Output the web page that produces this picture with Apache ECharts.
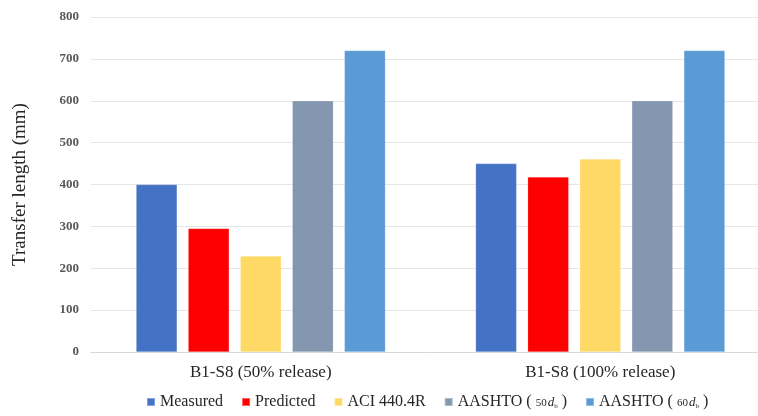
<!DOCTYPE html>
<html>
<head>
<meta charset="utf-8">
<script src="https://cdn.jsdelivr.net/npm/echarts@6/dist/echarts.min.js"></script>
<style>html,body{margin:0;padding:0;background:#fff;}#c{width:758px;height:416px;}</style>
</head>
<body>
<div id="c"></div>
<script>
var categories = ['B1-S8 (50% release)', 'B1-S8 (100% release)'];
var seriesNames = ['Measured', 'Predicted', 'ACI 440.4R', 'AASHTO50', 'AASHTO60'];
var measured = [400, 450];
var predicted = [295, 418];
var aci = [229, 461];
var aashto50 = [600, 600];
var aashto60 = [720, 720];
var yTicks = [0, 100, 200, 300, 400, 500, 600, 700, 800];
var colors = ['#4472C4', '#FF0000', '#FFD966', '#8497B0', '#5B9BD5'];

var serif = 'Liberation Serif';
var values = [measured, predicted, aci, aashto50, aashto60];
var chart = echarts.init(document.getElementById('c'), null, {renderer: 'canvas'});
var series = seriesNames.map(function (n, i) {
  return {
    name: n,
    type: 'bar',
    data: values[i],
    barWidth: 41,
    barGap: '27%',
    itemStyle: {color: colors[i], borderColor: 'rgba(255,255,255,0.35)', borderWidth: 0.5},
    emphasis: {disabled: true}
  };
});
chart.setOption({
  animation: false,
  color: colors,
  textStyle: {fontFamily: serif},
  grid: {left: 91, right: -12, top: 17, bottom: 64, containLabel: false, outerBoundsMode: 'none'},
  legend: {
    bottom: 1,
    left: 141,
    itemWidth: 8,
    itemHeight: 8,
    itemGap: 18,
    icon: 'rect',
    textStyle: {
      fontFamily: serif, fontSize: 16, color: '#262626',
      rich: {
        t: {fontFamily: serif, fontSize: 16, color: '#262626'},
        g: {fontFamily: serif, fontSize: 16, width: 4},
        s: {fontFamily: serif, fontSize: 11, color: '#262626', padding: [2, 0, 0, 0]},
        i: {fontFamily: serif, fontSize: 13, fontStyle: 'italic', color: '#262626', padding: [2, 0, 0, 1]},
        b: {fontFamily: serif, fontSize: 7, color: '#262626', padding: [8, 0, 0, 0]}
      }
    },
    formatter: function (name) {
      if (name === 'AASHTO50') return '{t|AASHTO (}{g| }{s|50}{i|d}{b|b}{g| }{t|)}';
      if (name === 'AASHTO60') return '{t|AASHTO (}{g| }{s|60}{i|d}{b|b}{g| }{t|)}';
      return '{t|' + name + '}';
    }
  },
  xAxis: {
    type: 'category',
    data: categories,
    axisLine: {show: true, lineStyle: {color: '#D9D9D9'}},
    axisTick: {show: false},
    axisLabel: {fontFamily: serif, fontSize: 17, color: '#262626', margin: 12}
  },
  yAxis: {
    type: 'value',
    min: yTicks[0],
    max: yTicks[yTicks.length - 1],
    interval: 100,
    name: 'Transfer length (mm)',
    nameLocation: 'middle',
    nameGap: 61,
    nameTextStyle: {fontFamily: serif, fontSize: 19, color: '#262626'},
    axisLine: {show: false},
    axisTick: {show: false},
    axisLabel: {fontFamily: serif, fontSize: 13, fontWeight: 'bold', color: '#595959', margin: 12},
    splitLine: {lineStyle: {color: '#E6E6E6', width: 1}}
  },
  series: series
});
</script>
</body>
</html>
